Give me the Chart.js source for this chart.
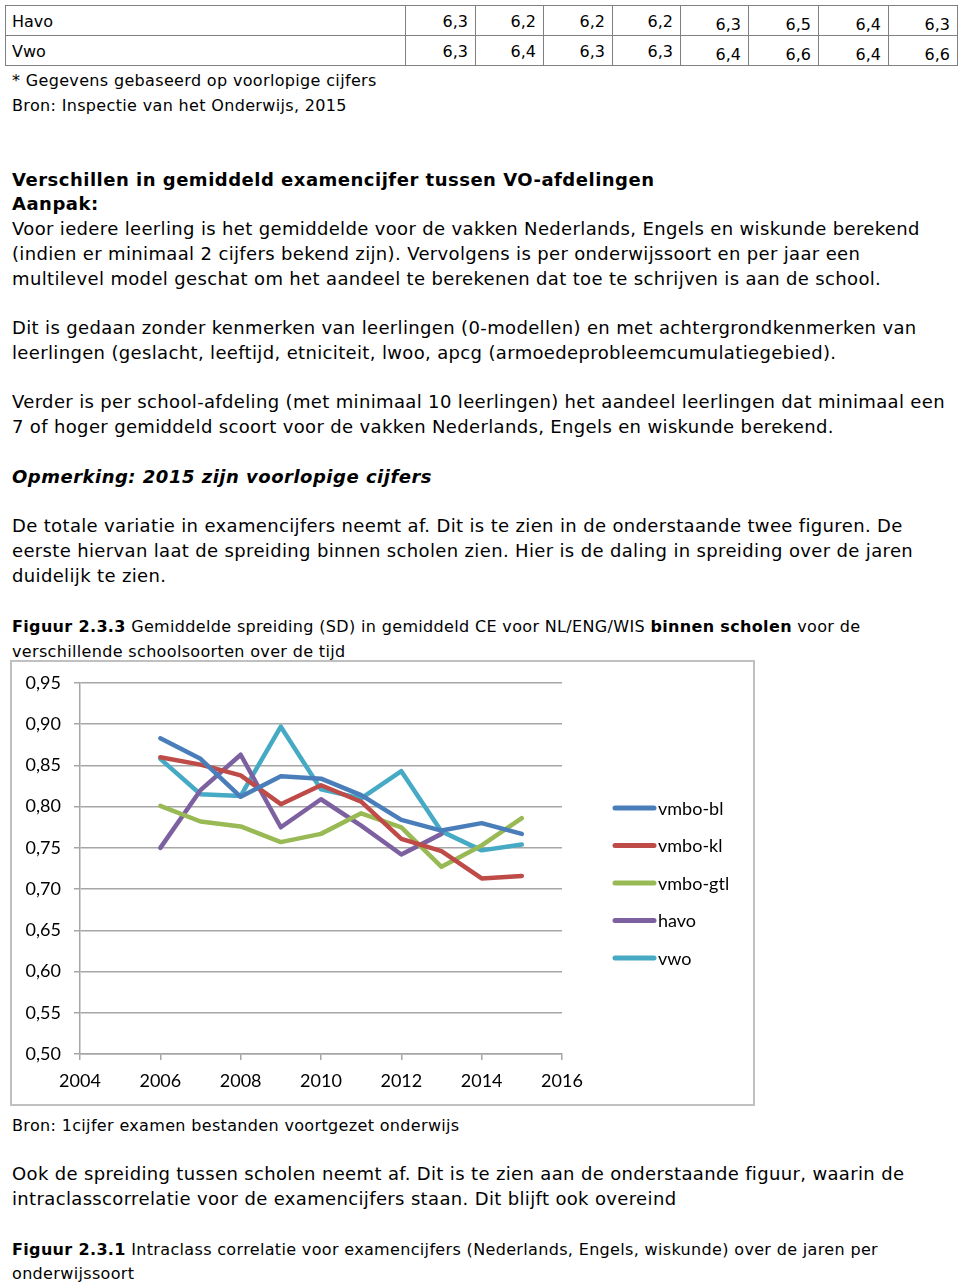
<!DOCTYPE html>
<html>
<head>
<meta charset="utf-8">
<script src="https://cdn.jsdelivr.net/npm/chart.js@4/dist/chart.umd.min.js"></script>
<style>
  body { margin: 0; background: #fff; width: 960px; height: 1285px; position: relative; overflow: hidden;
         font-family: "DejaVu Sans", Verdana, sans-serif; color: #000; }
  .l { position: absolute; left: 12px; white-space: nowrap; font-size: 18px; letter-spacing: 0.35px; line-height: 25px; }
  .l b { letter-spacing: 0.5px; }
  .s { font-size: 16px; letter-spacing: 0.34px; }
  .s b { letter-spacing: 0.34px; }
  table { position: absolute; left: 5px; top: 5px; border-collapse: collapse; font-size: 16px; table-layout: fixed; }
  td { border: 1.5px solid #808080; height: 26px; line-height: 20px; padding: 3px 7px 0 0; text-align: right; vertical-align: middle; }
  td.n { text-align: left; padding-left: 6px; }
  td span { position: relative; top: 3px; }
  #box { position: absolute; left: 10px; top: 660px; width: 745px; height: 446px; box-sizing: border-box;
         border: 2px solid #c0c0c0; }
</style>
</head>
<body>

<table>
  <colgroup>
    <col style="width:400px"><col style="width:70px"><col style="width:68px"><col style="width:69px"><col style="width:68px">
    <col style="width:68px"><col style="width:70px"><col style="width:70px"><col style="width:69px">
  </colgroup>
  <tr><td class="n">Havo</td><td>6,3</td><td>6,2</td><td>6,2</td><td>6,2</td><td><span>6,3</span></td><td><span>6,5</span></td><td><span>6,4</span></td><td><span>6,3</span></td></tr>
  <tr><td class="n">Vwo</td><td>6,3</td><td>6,4</td><td>6,3</td><td>6,3</td><td><span>6,4</span></td><td><span>6,6</span></td><td><span>6,4</span></td><td><span>6,6</span></td></tr>
</table>

<div class="l s" style="top:68px">* Gegevens gebaseerd op voorlopige cijfers</div>
<div class="l s" style="top:93px">Bron: Inspectie van het Onderwijs, 2015</div>

<div class="l" style="top:167px"><b>Verschillen in gemiddeld examencijfer tussen VO-afdelingen</b></div>
<div class="l" style="top:191px"><b>Aanpak:</b></div>
<div class="l" style="top:216px">Voor iedere leerling is het gemiddelde voor de vakken Nederlands, Engels en wiskunde berekend</div>
<div class="l" style="top:241px">(indien er minimaal 2 cijfers bekend zijn). Vervolgens is per onderwijssoort en per jaar een</div>
<div class="l" style="top:266px">multilevel model geschat om het aandeel te berekenen dat toe te schrijven is aan de school.</div>

<div class="l" style="top:315px">Dit is gedaan zonder kenmerken van leerlingen (0-modellen) en met achtergrondkenmerken van</div>
<div class="l" style="top:340px">leerlingen (geslacht, leeftijd, etniciteit, lwoo, apcg (armoedeprobleemcumulatiegebied).</div>

<div class="l" style="top:389px">Verder is per school-afdeling (met minimaal 10 leerlingen) het aandeel leerlingen dat minimaal een</div>
<div class="l" style="top:414px">7 of hoger gemiddeld scoort voor de vakken Nederlands, Engels en wiskunde berekend.</div>

<div class="l" style="top:464px"><b><i>Opmerking: 2015 zijn voorlopige cijfers</i></b></div>

<div class="l" style="top:513px">De totale variatie in examencijfers neemt af. Dit is te zien in de onderstaande twee figuren. De</div>
<div class="l" style="top:538px">eerste hiervan laat de spreiding binnen scholen zien. Hier is de daling in spreiding over de jaren</div>
<div class="l" style="top:563px">duidelijk te zien.</div>

<div class="l s" style="top:614px"><b>Figuur 2.3.3</b> Gemiddelde spreiding (SD) in gemiddeld CE voor NL/ENG/WIS <b>binnen scholen</b> voor de</div>
<div class="l s" style="top:639px">verschillende schoolsoorten over de tijd</div>

<div id="box"><canvas id="chart" width="741" height="442"></canvas></div>

<div class="l s" style="top:1113px">Bron: 1cijfer examen bestanden voortgezet onderwijs</div>

<div class="l" style="top:1161px">Ook de spreiding tussen scholen neemt af. Dit is te zien aan de onderstaande figuur, waarin de</div>
<div class="l" style="top:1186px">intraclasscorrelatie voor de examencijfers staan. Dit blijft ook overeind</div>

<div class="l s" style="top:1237px"><b>Figuur 2.3.1</b> Intraclass correlatie voor examencijfers (Nederlands, Engels, wiskunde) over de jaren per</div>
<div class="l s" style="top:1261px">onderwijssoort</div>

<script>
const years = [2006, 2007, 2008, 2009, 2010, 2011, 2012, 2013, 2014, 2015];
const vmboBl = [0.883, 0.858, 0.812, 0.837, 0.834, 0.814, 0.784, 0.771, 0.780, 0.767];
const vmboKl = [0.860, 0.851, 0.838, 0.803, 0.826, 0.806, 0.761, 0.746, 0.713, 0.716];
const vmboGtl = [0.801, 0.782, 0.776, 0.757, 0.767, 0.792, 0.775, 0.727, 0.753, 0.786];
const havo = [0.750, 0.820, 0.863, 0.775, 0.809, 0.777, 0.742, 0.767, null, null];
const vwo = [0.858, 0.815, 0.813, 0.897, 0.821, 0.810, 0.843, 0.770, 0.747, 0.754];

const seriesNames = ['vmbo-bl', 'vmbo-kl', 'vmbo-gtl', 'havo', 'vwo'];
const seriesColors = ['#4a7ebb', '#be4b48', '#98b954', '#7d60a0', '#46aac5'];
const xTicks = [2004, 2006, 2008, 2010, 2012, 2014, 2016];
const yTicks = [0.50, 0.55, 0.60, 0.65, 0.70, 0.75, 0.80, 0.85, 0.90, 0.95];

const FONT = 'Lato, "Open Sans", sans-serif';
const gridColor = '#a6a6a6';

// legenda rechts, zelf getekend (zoals in Excel)
const sideLegend = {
    id: 'sideLegend',
    afterDraw: function (chart) {
        const ctx = chart.ctx;
        ctx.save();
        ctx.font = '18px ' + FONT;
        ctx.textBaseline = 'middle';
        chart.data.datasets.forEach(function (ds, i) {
            let y = 146 + i * 37.5;
            ctx.strokeStyle = ds.borderColor;
            ctx.lineWidth = 5;
            ctx.lineCap = 'round';
            ctx.beginPath();
            ctx.moveTo(603, y);
            ctx.lineTo(642, y);
            ctx.stroke();
            ctx.fillStyle = '#000';
            ctx.fillText(ds.label, 646, y + 1);
        });
        ctx.restore();
    }
};

let series = [vmboBl, vmboKl, vmboGtl, havo, vwo];
let datasets = series.map(function (vals, i) {
    return {
        label: seriesNames[i],
        data: years.map(function (yr, j) { return {x: yr, y: vals[j]}; }),
        borderColor: seriesColors[i],
        backgroundColor: seriesColors[i],
        borderWidth: 4.5,
        pointRadius: 0,
        tension: 0,
        borderJoinStyle: 'round',
        borderCapStyle: 'round',
        spanGaps: false
    };
});

new Chart(document.getElementById('chart').getContext('2d'), {
    type: 'line',
    data: {datasets: datasets},
    plugins: [sideLegend],
    options: {
        responsive: false,
        animation: false,
        layout: {padding: {top: 21, right: 191, bottom: 12, left: 0}},
        plugins: {legend: {display: false}, tooltip: {enabled: false}},
        scales: {
            x: {
                type: 'linear',
                min: 2004,
                max: 2016,
                afterBuildTicks: function (scale) { scale.ticks = xTicks.map(function (v) { return {value: v}; }); },
                afterFit: function (scale) { scale.height = 38; },
                grid: {drawOnChartArea: false, drawTicks: true, tickLength: 6, color: gridColor, lineWidth: 1.5},
                border: {display: true, color: gridColor, width: 1.5},
                ticks: {
                    font: {family: FONT, size: 18},
                    color: '#000',
                    padding: 10,
                    maxRotation: 0,
                    callback: function (v) { return String(v); }
                }
            },
            y: {
                min: 0.5,
                max: 0.95,
                afterBuildTicks: function (scale) { scale.ticks = yTicks.map(function (v) { return {value: v}; }); },
                afterFit: function (scale) {
                    scale.width = 68;
                    scale.paddingTop = 0;
                    scale.paddingBottom = 0;
                },
                grid: {drawTicks: true, tickLength: 6, color: gridColor, lineWidth: 1.5},
                border: {display: true, color: gridColor, width: 1.5},
                ticks: {
                    font: {family: FONT, size: 18},
                    color: '#000',
                    padding: 13,
                    callback: function (v) { return v.toFixed(2).replace('.', ','); }
                }
            }
        }
    }
});
</script>
</body>
</html>
